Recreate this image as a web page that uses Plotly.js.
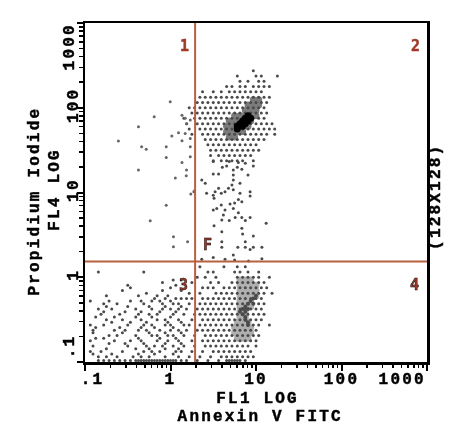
<!DOCTYPE html>
<html><head><meta charset="utf-8">
<script src="https://cdn.plot.ly/plotly-3.0.1.min.js"></script>
<style>html,body{margin:0;padding:0;background:#fff}#c{width:454px;height:437px;filter:blur(0.55px)}
#c .xtick text,#c .ytick text,#c .annotation-text{letter-spacing:2.2px;stroke:#000;stroke-width:0.45px}
#c .annotation:nth-child(-n+5) .annotation-text{stroke:#a03a2a;letter-spacing:0}</style>
</head><body><div id="c"></div>
<script>
// All populations are in instrument channels (128 x 128, 32 channels per decade)
// [y channel, [x channels]]
const upperRows = [
[110,[63]],[108,[57,64,66,72]],[106,[58,61,65,67]],
[104,[53,55,58,60,63,65,67,69]],
[102,[44,48,51,54,56,58,60,62,64,66]],
[100,[43,45,47,49,51,53,55,57,59,61,63,65,67,69]],
[98,[42,44,46,48,50,52,54,56,58,60,62,64,66,68]],
[96,[39,41,43,45,47,49,51,53,55,57,59,61,63,65,67]],
[94,[40,42,44,46,48,50,52,54,56,58,60,62,64,66,68]],
[92,[37,41,43,45,47,49,51,53,55,57,59,61,63,65,67]],
[90,[38,42,44,46,48,50,52,54,56,58,60,62,64,66,68,70]],
[88,[39,43,45,47,49,51,53,55,57,59,61,63,65,67,69,71]],
[86,[40,44,46,48,50,52,54,56,58,60,62,64,66,68,71]],
[84,[45,47,49,51,53,55,57,59,61,63,65,67]],
[82,[46,48,50,52,54,56,58,60,62,64]],
[80,[47,49,51,53,55,57,59,61,63,65]],
[78,[47,50,52,54,56,58,60,62]],
[76,[48,51,53,55,57,59,63]]
];
const stalkX = [48,54,57.4,60,63,51.4,53,57,58.7,55.5,48,50,55.5,61,43.7,45,55.5,58,55,53.7,50,52.4,55.5,48.7,51,58,61.8,61.8,45.5,40.8,48,48.3,57.4,56,58.7,54.3,51,49.3,48,52.4,55.5,57.4,51.8,51.2,54,56.2,58.7,61.8,60,67.8,48.3,58.7,51.2,59,63,51.2,60,51.2,57.2,60,61.8,63,66.2,48,43.7,55.5,52.4,56,61.2,66.2];
const stalkY = [75.7,75.7,75.3,75,74,73.5,74,73.5,72.8,72.5,71,71,70.6,70.6,68.7,67.5,68.7,67.5,66.8,65.6,65.6,64.3,65,64.3,63.7,63.7,64.3,62.7,63.7,64.3,63,61.8,61.4,60,60.5,59.7,59.3,58,57.4,57.4,58,56.4,55.5,53.6,53.4,54.6,54.6,54.6,53.4,52.4,51.4,50.5,49.2,48.3,47.6,45.4,45.4,43.3,43.3,43.3,42.5,43.3,43.3,39.5,38.8,40.4,38.8,38.5,38.1,39];
const leftX = [12.5,21.2,22.9,30.4,30.4,20,36.3,38,37.9,33.8,40.9,39.6,30.4,24.4,33.1,38.4,33.1,32.5,35,36.3,39.4,39.4,39.4,37.5,36.3,38.1,39.4,37.5,31.9,25.9,20];
const leftY = [83.4,81.3,80.3,81.3,77.2,72.5,75.3,72.5,70.3,69.5,64.6,63.4,59.2,53.3,47.3,45.4,43.5,85.3,86.6,83.5,84.4,81.3,77.5,86.3,93.2,90,91.4,92,98.3,92.6,88.8];
const lowerRows = [
[36,[43,52,57,60]],[34,[5,22,46,48,56,58,61,65]],
[32,[42,45,49,57,59,61,63,65,69]],[31,[33,36]],
[30,[29,40,47,50,55,57,59,61,63,65,67]],[29,[16,34]],
[28,[17,32,44,46,48,52,54,56,58,60,62,64,66,68]],[27,[14,29,36]],
[26,[23,39,43,49,51,53,55,57,59,61,63,65,67,70]],[25,[8,20,27,31]],
[24,[26,30,34,36,38,40,44,46,48,50,52,54,56,58,60,62,64,66]],[23,[2,9,17,21,25,28,32]],
[22,[7,12,22,29,33,35,39,43,45,47,49,51,53,55,57,59,61,63,65,67]],
[21,[8,16,24,30,36]],
[20,[5,10,19,25,29,32,35,38,42,44,46,48,50,52,54,56,58,60,62,64,66]],
[19,[7,15,21,28,34]],
[18,[6,13,20,24,27,33,37,41,43,45,47,49,51,53,55,57,59,61,63,65,67]],
[17,[4,11,19,25,32]],
[16,[8,14,21,27,30,35,40,44,46,48,50,52,54,56,58,60,62,64,66]],
[15,[10,17,23,31,36]],
[14,[2,7,16,22,25,30,32,37,39,43,45,47,49,51,53,55,57,59,61,63,65,69]],
[13,[4,13,21,26,33]],
[12,[3,11,15,20,23,28,32,35,38,42,44,46,48,50,52,54,56,58,60,62,64]],
[11,[3,14,24,30,36]],
[10,[9,12,19,25,27,31,33,37,41,45,47,49,51,53,55,57,59,61,63,65]],
[9,[4,7,20,28,34]],
[8,[2,11,17,21,27,31,35,40,44,46,48,50,52,54,56,58,60,62,64]],
[7,[9,15,22,30,36]],
[6,[3,16,23,26,29,33,37,41,45,47,49,51,53,55,57,59,61,64]],
[5,[8,19,24,30,35]],
[4,[2,6,14,22,25,28,34,36,40,44,48,50,52,54,56,58,60,62]],
[3,[3,10,20,26,33]],
[2,[5,8,12,18,21,24,30,35,39,43,47,51,53,55,57,59,61,63]],
[0.6,[5,7,9,11,13,15,17,19,20,21,22,23,24,25,26,27,28,29,30,31,32,33,34,36,38,42,46,50,53,54,55,56,57,58,60]]
];
const grayRows = [
[99,[63,65]],[97,[61,63,65]],[95,[60,62,64]],[93,[56,58,60,62,64]],[91,[54,56,58,60,62]],[89,[53,55,57,59,61]],[87,[53,55,57,59]],[85,[54,56]]
];
const lightRows = [
[31,[58,60,62]],[29,[58,60,62,64]],[27,[58,60,62,64]],[25,[58,60,62,64]],[23,[58,60,62]],[21,[58,60,62]],[19,[58,60]],[17,[58,60]],[15,[57,59,61]],[13,[56,58,60,62]],[11,[56,58,60,62]],[9,[57,59,61]]
];
const coreRows = [[93,[61]],[92,[60,62]],[91,[59,61]],[90,[58,60]],[89,[57,59]],[88,[57]]];
const midRows = [[25,[64]],[24,[63]],[23,[62]],[22,[61,63]],[21,[60]],[20,[59,61]],[19,[58,60]],[18,[59]],[17,[60]],[16,[60]],[15,[61]],[14,[61]]];
const gateFL1 = 1.94, gateFL4 = 1.53;
const axisLow = 0.1, axisHigh = 1000;
const tickVals = [0.1,1,10,100,1000];
const tickText = ['','1','10','100',''];
const endLabels = ['.1','1000'];
const quadrantLabels = ['1','2','3','4','F'];

const toFL = ch => 0.1*Math.pow(10,ch/32);
const flat = rows => { const x=[],y=[]; rows.forEach(([r,xs])=>xs.forEach(c=>{x.push(toFL(c));y.push(toFL(r));})); return {x,y}; };
const minorVals=[]; for(let d=0.1;d<999;d*=10){for(let k=2;k<10;k++)minorVals.push(d*k);}
const dot=(d,size,color)=>({type:'scatter',mode:'markers',x:d.x,y:d.y,hoverinfo:'skip',marker:{size,color,line:{width:0}},showlegend:false});
const FF='"Liberation Mono", monospace';
const RED='#a03a2a', LINE='#b8603f';
const traces=[
 dot(flat(lightRows),7,'#b0b0b0'),
 dot(flat(grayRows),7,'#7c7c7c'),
 dot(flat(upperRows),3,'#4a4a4a'),
 dot(flat(lowerRows),3,'#4a4a4a'),
 dot({x:stalkX.map(toFL),y:stalkY.map(toFL)},3,'#4a4a4a'),
 dot({x:leftX.map(toFL),y:leftY.map(toFL)},3,'#666'),
 dot(flat(midRows),4,'#4a4a4a'),
 dot(flat(coreRows),7,'#000'),
 {type:'scatter',mode:'lines',x:[gateFL1,gateFL1],y:[axisLow,axisHigh],line:{color:LINE,width:2},hoverinfo:'skip',showlegend:false},
 {type:'scatter',mode:'lines',x:[axisLow,axisHigh],y:[gateFL4,gateFL4],line:{color:LINE,width:2},hoverinfo:'skip',showlegend:false}
];
const axis=(angle,standoff)=>({type:'log',range:[-1,3],tickmode:'array',tickvals:tickVals,ticktext:tickText,tickangle:angle,
 ticks:'outside',ticklen:6,tickwidth:2,tickcolor:'#000',ticklabelstandoff:standoff,
 minor:{tickmode:'array',tickvals:minorVals,ticks:'outside',ticklen:3.5,tickwidth:1.5,tickcolor:'#000',showgrid:false},
 showgrid:false,zeroline:false,showline:true,mirror:true,linecolor:'#000',linewidth:2.5,
 tickfont:{family:FF,size:16,color:'#000',weight:'bold'},automargin:false});
const lab=(t,px,py)=>({text:'<b>'+t+'</b>',xref:'paper',yref:'paper',x:(px-85)/342,y:(362-py)/339,xanchor:'center',yanchor:'middle',showarrow:false,font:{family:'"DejaVu Sans Mono", monospace',size:15,color:RED}});
const txt=(t,px,py,angle,size)=>({text:'<b>'+t+'</b>',xref:'paper',yref:'paper',x:(px-85)/342,y:(362-py)/339,xanchor:'center',yanchor:'middle',showarrow:false,textangle:angle,font:{family:FF,size,color:'#000'}});
const layout={width:454,height:437,margin:{l:85,r:27,t:23,b:75},paper_bgcolor:'#fff',plot_bgcolor:'#fff',showlegend:false,
 xaxis:axis(0,-6),
 yaxis:axis(-90,-8),
 annotations:[lab(quadrantLabels[0],184,46),lab(quadrantLabels[1],415,46),lab(quadrantLabels[2],184,285),lab(quadrantLabels[3],415,285),lab(quadrantLabels[4],208,245),
 txt(endLabels[0],92,380,0,16),txt(endLabels[1],402,380,0,16),txt(endLabels[0],70,347,-90,16),txt(endLabels[1],70,47,-90,16),
 txt('(128X128)',436,197,-90,16),txt('FL1 LOG',257,399,0,16),txt('Annexin V FITC',260,417,0,16),txt('Propidium Iodide',35,201,-90,16),txt('FL4 LOG',55,190,-90,16)]
};
Plotly.newPlot('c',traces,layout,{displayModeBar:false,staticPlot:true});
</script></body></html>
